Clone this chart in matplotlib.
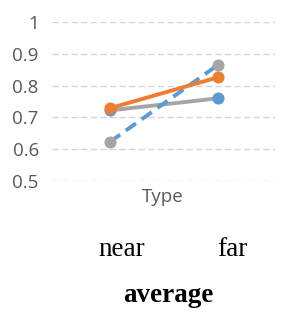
import matplotlib
matplotlib.use("Agg")
import matplotlib.pyplot as plt

categories = ["near", "far"]
series_a = [0.722, 0.760]   # gray line, blue markers
series_b = [0.623, 0.865]   # blue dashed line, gray markers
series_c = [0.729, 0.826]   # orange line, orange markers
yticks = [0.5, 0.6, 0.7, 0.8, 0.9, 1.0]
ytick_labels = ["0.5", "0.6", "0.7", "0.8", "0.9", "1"]

BLUE = "#5B9BD5"
ORANGE = "#ED7D31"
GRAY = "#A5A5A5"

fig = plt.figure(figsize=(3.05, 3.31), dpi=100)
ax = fig.add_axes([52/305, 1-181/331, 223/305, 159/331])
x = list(range(len(categories)))

ax.plot(x, series_a, color=GRAY, lw=2.8, marker="o", ms=7.7,
        mfc=BLUE, mec=BLUE, zorder=3, solid_capstyle="round")
ax.plot(x, series_b, color=BLUE, lw=2.8, ls=(0, (3.2, 1.8)), marker="o", ms=7.7,
        mfc=GRAY, mec=GRAY, zorder=4)
ax.plot(x, series_c, color=ORANGE, lw=2.8, marker="o", ms=7.7,
        mfc=ORANGE, mec=ORANGE, zorder=5, solid_capstyle="round")

ax.set_xlim(-0.537, 1.529)
ax.set_ylim(0.5, 1.0)
ax.set_yticks(yticks)
ax.set_yticklabels(ytick_labels, fontsize=13.5, color="#595959", family="Open Sans")
ax.tick_params(axis="y", length=0, pad=9.5)
ax.set_xticks([])
for s in ax.spines.values():
    s.set_visible(False)
ax.yaxis.grid(True, color="#D4D4D4", lw=1.0, ls=(0, (4.5, 2.4)))
ax.set_axisbelow(True)
for line in ax.lines:
    line.set_clip_on(False)

fig.text(163/305, 1-197/331, "Type", ha="center", va="center",
         fontsize=13.5, color="#595959", family="Open Sans")
fig.text(122/305, 1-249/331, categories[0], ha="center", va="center",
         fontsize=19.5, color="black", family="Liberation Serif")
fig.text(232/305, 1-249/331, categories[1], ha="center", va="center",
         fontsize=19.5, color="black", family="Liberation Serif")
fig.text(168/305, 1-296/331, "average", ha="center", va="center",
         fontsize=19.5, color="black", family="Liberation Serif", weight="bold")

fig.savefig("out.png", dpi=100)
